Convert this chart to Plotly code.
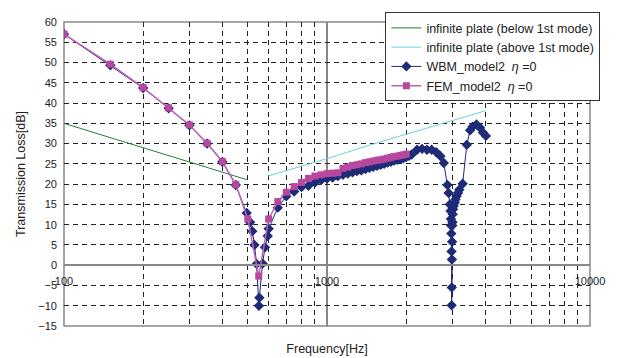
import plotly.graph_objects as go

# ---------------- data ----------------
below_f = [100, 495]
below_tl = [35.0, 21.1]

above_f = [598, 1000, 1500, 2000, 3500, 4000]
above_tl = [22.0, 26.3, 29.9, 32.3, 37.1, 38.1]

wbm_f = [100, 150, 200, 250, 300, 350, 400, 450, 495, 510, 520, 530, 540, 551, 553,
         569, 581, 595, 600, 650, 700, 750, 800, 850, 900, 950, 1000, 1050, 1100,
         1150, 1200, 1250, 1300, 1350, 1400, 1450, 1500, 1550, 1600, 1650, 1700,
         1750, 1800, 1850, 1900, 1950, 2000, 2050, 2100, 2200, 2300, 2400, 2500,
         2600, 2700, 2780, 2870, 2900, 2930, 2950, 2960, 2965, 2970, 2975, 2978,
         2982, 2985, 2990, 2995, 3000, 3005, 3015, 3030, 3060, 3080, 3110, 3150,
         3185, 3280, 3400, 3500, 3580, 3700, 3820, 3920, 4020]
wbm_tl = [57.0, 49.3, 43.7, 38.7, 34.5, 30.0, 25.5, 19.8, 12.9, 10.6, 8.4, 5.0, 0.3, -10.0, -8.0,
          0.4, 4.4, 7.2, 9.0, 14.2, 17.0, 18.2, 19.3, 19.6, 20.4, 21.0, 21.4, 21.6, 22.0,
          22.3, 22.6, 22.9, 23.2, 23.4, 23.7, 24.0, 24.3, 24.5, 24.8, 25.0, 25.3,
          25.5, 25.8, 26.0, 26.2, 26.4, 26.7, 27.0, 27.3, 28.5, 28.7, 28.5, 28.5,
          27.9, 26.9, 25.2, 19.8, 17.8, 15.0, 13.4, 11.4, 9.8, 7.8, 3.4, -9.9,
          -5.5, 1.4, 5.8, 9.8, 10.6, 12.6, 13.8, 14.6, 15.4, 16.2, 17.0, 17.8,
          18.6, 20.1, 29.7, 33.3, 34.2, 34.7, 33.9, 32.7, 31.9]

fem_f = [100, 150, 200, 250, 300, 350, 400, 450, 500, 550, 600, 650, 700, 750, 800,
         850, 900, 950, 1000, 1050, 1100, 1150, 1200, 1250, 1300, 1350, 1400, 1450,
         1500, 1550, 1600, 1650, 1700, 1750, 1800, 1850, 1900, 1950, 2000]
fem_tl = [57.0, 49.6, 43.8, 38.8, 34.6, 30.1, 25.6, 19.9, 11.4, -2.7, 11.4, 15.7, 18.0, 19.4, 20.4,
          21.4, 22.0, 22.3, 22.6, 22.7, 22.8, 23.9, 24.2, 24.6, 24.8, 25.0, 25.3, 25.5,
          25.7, 25.9, 26.0, 26.2, 26.4, 26.6, 26.8, 26.9, 27.1, 27.2, 27.4]

major_ticks = [100, 1000, 10000]
major_labels = ["100", "1000", "10000"]
minor_ticks = [200, 300, 400, 500, 600, 700, 800, 900,
               2000, 3000, 4000, 5000, 6000, 7000, 8000, 9000]

FONT = "Liberation Sans, Arial, sans-serif"

fig = go.Figure()
fig.add_trace(go.Scatter(x=below_f, y=below_tl, mode="lines",
                         name="infinite plate (below 1st mode)",
                         line=dict(color="#247F36", width=1)))
fig.add_trace(go.Scatter(x=above_f, y=above_tl, mode="lines",
                         name="infinite plate (above 1st mode)",
                         line=dict(color="#6FCFDC", width=1)))
fig.add_trace(go.Scatter(x=wbm_f, y=wbm_tl, mode="lines+markers",
                         name="WBM_model2\u00a0\u00a0<i>η</i> =0",
                         line=dict(color="#1F2A78", width=1),
                         marker=dict(symbol="diamond", size=8, color="#1F2A78")))
fig.add_trace(go.Scatter(x=fem_f, y=fem_tl, mode="lines+markers",
                         name="FEM_model2\u00a0\u00a0<i>η</i> =0",
                         line=dict(color="#C062B4", width=1.5),
                         marker=dict(symbol="square", size=7, color="#B8479F")))

fig.update_layout(
    width=617, height=358,
    margin=dict(l=64, r=27, t=15, b=32),
    paper_bgcolor="white", plot_bgcolor="white",
    font=dict(family=FONT, size=11, color="#222"),
    showlegend=True,
    legend=dict(x=0.611, y=1.032, xanchor="left", yanchor="top",
                bgcolor="white", bordercolor="#333", borderwidth=1,
                font=dict(family=FONT, size=12.5, color="#222"),
                itemwidth=30, tracegroupgap=0),
    xaxis=dict(type="log", range=[2, 4], anchor="free", position=0.2,
               showline=True, linecolor="#888", linewidth=1.5,
               tickmode="array", tickvals=major_ticks, ticktext=major_labels,
               ticks="", ticklabelstandoff=6,
               showgrid=True, gridcolor="#888", gridwidth=1.5,
               minor=dict(tickmode="array", tickvals=minor_ticks, showgrid=True,
                          gridcolor="#222", griddash="5px,4px", gridwidth=1, ticks=""),
               tickfont=dict(size=11),
               title=dict(text="Frequency[Hz]", font=dict(size=12.5), standoff=57),
               automargin=False),
    yaxis=dict(range=[-15, 60], tick0=0, dtick=5,
               showgrid=True, gridcolor="#222", griddash="5px,4px", gridwidth=1,
               zeroline=False, showline=False, ticks="", ticklabelstandoff=6,
               tickfont=dict(size=11),
               title=dict(text="Transmission Loss[dB]", font=dict(size=12.5), standoff=9),
               automargin=False),
    shapes=[dict(type="rect", xref="paper", yref="paper", x0=0, x1=1, y0=0, y1=1,
                 line=dict(color="#888", width=1.5), fillcolor="rgba(0,0,0,0)", layer="below")],
)

fig.write_html("out.html")
